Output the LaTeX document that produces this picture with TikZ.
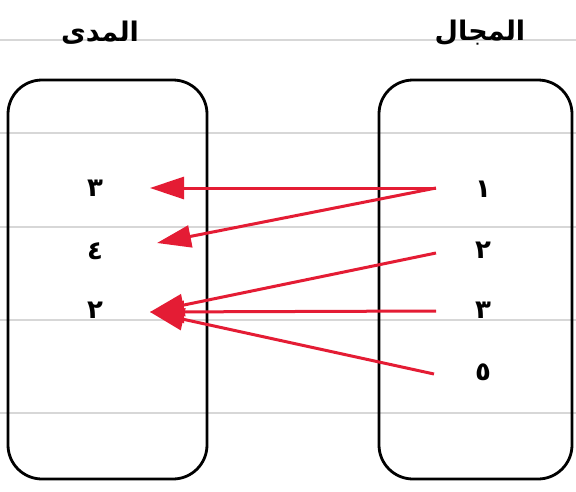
\documentclass[tikz,border=0pt]{standalone}
\usepackage{fontspec}
\usetikzlibrary{arrows.meta,calc}
\TeXXeTstate=1
\newfontfamily\arabicfont[Script=Arabic]{DejaVu Sans}
\definecolor{maped}{RGB}{228,28,52}
\definecolor{ruleline}{RGB}{215,215,215}
\begin{document}
\begin{tikzpicture}[x=1pt,y=-1pt,
  rule/.style={draw=ruleline,line width=1.6pt},
  setbox/.style={draw=black,line width=2.8pt,rounded corners=34pt},
  title/.style={font=\arabicfont\bfseries\fontsize{27}{30}\selectfont,inner sep=0pt},
  num/.style={font=\arabicfont\bfseries\fontsize{26}{30}\selectfont,inner sep=0pt},
  maparrow/.style={draw=maped,line width=3pt,
    -{Triangle[length=34pt,width=22pt]}}]
\useasboundingbox (0,0) rectangle (576,491);
\fill[white] (0,0) rectangle (576,491);

% ruled paper
\foreach \y in {40,133,227,320,413}
  \draw[rule] (0,\y) -- (576,\y);

% the two sets
\draw[setbox] (8,80) rectangle (207,479);
\draw[setbox] (379,80) rectangle (572,479);

% headings
\node[title] (range)  at (100,33) {\beginR المدى\endR};
\node[title] (domain) at (480,33) {\beginR المجال\endR};

% range elements
\node[num] (l3) at (95,188) {٣};
\node[num] (l4) at (95,251) {٤};
\node[num] (l2) at (95,310) {٢};

% domain elements
\node[num] (r1) at (483,189) {١};
\node[num] (r2) at (483,250) {٢};
\node[num] (r3) at (483,310) {٣};
\node[num] (r5) at (483,372) {٥};

% mapping arrows
\draw[maparrow] ($(r1)+(-47,-1)$) -- ($(l3)+(55,0)$);
\draw[maparrow] ($(r1)+(-47,-1)$) -- ($(l4)+(62,-8)$);
\draw[maparrow] ($(r2)+(-47,3)$) -- ($(l2)+(55,2)$);
\draw[maparrow] ($(r3)+(-47,1)$) -- ($(l2)+(55,2)$);
\draw[maparrow] ($(r5)+(-49,2)$) -- ($(l2)+(55,2)$);
\end{tikzpicture}
\end{document}
